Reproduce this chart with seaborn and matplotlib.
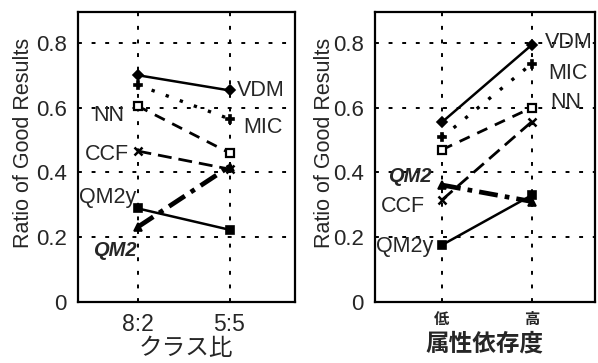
import numpy as np
import pandas as pd
import seaborn as sns
import matplotlib
matplotlib.use("Agg")
import matplotlib.pyplot as plt

# data
methods = ["VDM", "MIC", "NN", "CCF", "QM2", "QM2y"]

class_ticks = ["8:2", "5:5"]
class_vdm = [0.700, 0.653]
class_mic = [0.670, 0.565]
class_nn = [0.605, 0.460]
class_ccf = [0.466, 0.410]
class_qm2 = [0.231, 0.418]
class_qm2y = [0.289, 0.223]

dep_ticks = ["低", "高"]
dep_vdm = [0.555, 0.794]
dep_mic = [0.508, 0.736]
dep_nn = [0.470, 0.600]
dep_ccf = [0.315, 0.557]
dep_qm2 = [0.361, 0.310]
dep_qm2y = [0.176, 0.330]

styles = {
    "VDM": dict(linestyle="-", lw=1.8, marker="D", ms=5, mfc="k"),
    "MIC": dict(linestyle=(0, (1, 3.5)), lw=2.4, marker="P", ms=6, mfc="k"),
    "NN": dict(linestyle=(0, (4, 3)), lw=2.0, marker="s", ms=6, mfc="white", mew=1.6),
    "CCF": dict(linestyle=(0, (5, 2.5)), lw=2.0, marker="x", ms=6, mew=1.8),
    "QM2": dict(linestyle=(0, (4, 1.5, 1, 1.5)), lw=3.4, marker="^", ms=6, mfc="k"),
    "QM2y": dict(linestyle="-", lw=1.8, marker="s", ms=6, mfc="k"),
}


def make_frame(values):
    rows = []
    for name, vals in zip(methods, values):
        for pos, v in enumerate(vals):
            rows.append({"method": name, "pos": pos, "ratio": v})
    return pd.DataFrame(rows)


sns.set_style("white")
plt.rcParams["font.family"] = ["Liberation Sans", "Noto Sans CJK JP", "DejaVu Sans"]

fig = plt.figure(figsize=(5.98, 3.63), dpi=100)
ax1 = fig.add_axes([0.130, 0.168, 0.363, 0.799])
ax2 = fig.add_axes([0.627, 0.168, 0.368, 0.799])

panels = [
    (ax1, make_frame([class_vdm, class_mic, class_nn, class_ccf, class_qm2, class_qm2y]),
     (-0.65, 1.71), -0.20),
    (ax2, make_frame([dep_vdm, dep_mic, dep_nn, dep_ccf, dep_qm2, dep_qm2y]),
     (-0.745, 1.70), -0.183),
]

for ax, df, xlim, ylab_x in panels:
    for name in methods:
        sub = df[df["method"] == name]
        st = styles[name]
        sns.lineplot(data=sub, x="pos", y="ratio", ax=ax, color="k", mec="k",
                     linestyle=st["linestyle"], lw=st["lw"], marker=st["marker"],
                     ms=st["ms"], mfc=st.get("mfc", "k"), mew=st.get("mew", 1.2),
                     legend=False, zorder=3)
    ax.set_xlim(*xlim)
    ax.set_ylim(0, 0.895)
    ax.set_xticks([0, 1])
    ax.set_yticks([0, 0.2, 0.4, 0.6, 0.8])
    ax.set_yticklabels(["0", "0.2", "0.4", "0.6", "0.8"])
    ax.grid(True, color="k", linestyle=(0, (2, 5)), lw=1.4)
    ax.tick_params(length=0, labelsize=16, pad=8)
    ax.set_ylabel("Ratio of Good Results", fontsize=15.5)
    ax.yaxis.set_label_coords(ylab_x, 0.548)
    for sp in ax.spines.values():
        sp.set_color("k")
        sp.set_linewidth(1.6)

ax1.set_xticklabels(class_ticks, fontsize=16.5)
ax1.set_xlabel("クラス比", fontsize=17, labelpad=1)
ax2.set_xticklabels(dep_ticks, fontsize=11, fontweight="bold")
ax2.set_xlabel("属性依存度", fontsize=17, fontweight="bold", labelpad=4)

fs = 15.5
# left panel labels
ax1.text(1.08, 0.653, "VDM", fontsize=fs, ha="left", va="center")
ax1.text(1.15, 0.537, "MIC", fontsize=fs, ha="left", va="center")
ax1.text(-0.14, 0.577, "NN", fontsize=fs, ha="right", va="center")
ax1.text(-0.09, 0.454, "CCF", fontsize=fs, ha="right", va="center")
ax1.text(-0.01, 0.322, "QM2y", fontsize=fs, ha="right", va="center")
ax1.text(-0.01, 0.158, "QM2", fontsize=fs - 1, ha="right", va="center",
         fontweight="bold", fontstyle="italic")

# right panel labels
ax2.text(1.14, 0.800, "VDM", fontsize=fs, ha="left", va="center")
ax2.text(1.18, 0.705, "MIC", fontsize=fs, ha="left", va="center")
ax2.text(1.20, 0.617, "NN", fontsize=fs, ha="left", va="center")
ax2.text(-0.11, 0.386, "QM2", fontsize=fs - 1, ha="right", va="center",
         fontweight="bold", fontstyle="italic")
ax2.text(-0.19, 0.294, "CCF", fontsize=fs, ha="right", va="center")
ax2.text(-0.10, 0.170, "QM2y", fontsize=fs, ha="right", va="center")

fig.savefig("out.png", dpi=100)
